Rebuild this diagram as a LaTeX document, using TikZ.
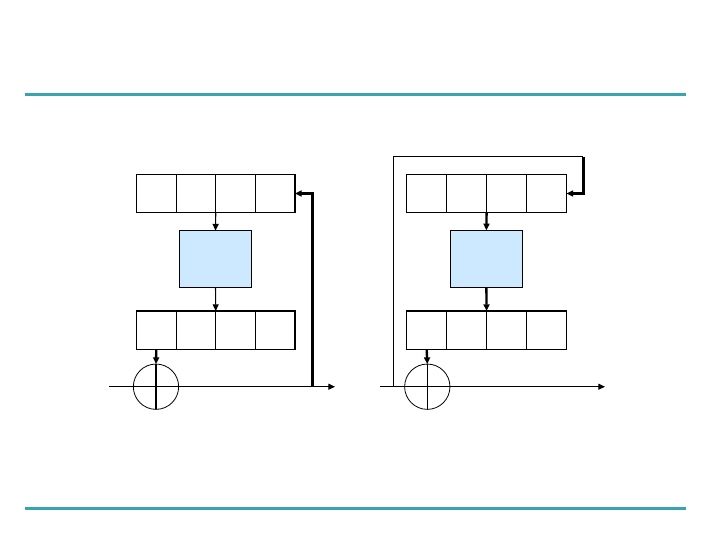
\documentclass[tikz,border=0pt]{standalone}
\usetikzlibrary{arrows.meta}
\definecolor{teal1}{HTML}{36A5AF}
\definecolor{lblue}{HTML}{CCE9FF}
\begin{document}
\begin{tikzpicture}[x=0.75pt,y=-0.75pt,
  cell/.style={draw,line width=0.8pt,minimum width=29.8pt,minimum height=29pt,inner sep=0pt,outer sep=0pt},
  fbox/.style={draw,line width=0.8pt,fill=lblue,minimum width=54.4pt,minimum height=42.6pt,inner sep=0pt,outer sep=0pt},
  xorc/.style={draw,circle,line width=0.6pt,minimum size=34pt,inner sep=0pt,outer sep=0pt},
  thin/.style={line width=0.8pt},
  thick2/.style={line width=1.8pt},
  tip/.style={-{Triangle[length=5pt,width=4.5pt]}},
  rule/.style={teal1,line width=2.4pt}]
\useasboundingbox (0,0) rectangle (720,540);
\draw[rule] (25,94.5) -- (686,94.5);
\draw[rule] (25,508.5) -- (686,508.5);

% ---------- left diagram ----------
\foreach \i/\x in {1/156.3,2/195.9,3/235.5,4/275.1}{
  \node[cell] (lt\i) at (\x,193.5) {};
  \node[cell] (lb\i) at (\x,330.3) {};
}
\node[fbox] (lbox) at (215.5,259) {};
\node[xorc] (lx) at (156,386.7) {};
\draw[thin] (lx.north) -- (lx.south);
\coordinate (lin) at (109,386.7);
\coordinate (lout) at (335,386.7);
\coordinate (lfb) at (312.3,386.7);
\coordinate (lfbt) at (312.3,193.5);
\draw[thin,tip] (lin) -- (lout);
\draw[thin,tip] (lt2.south east) -- (lbox.north);
\draw[thin,tip] (lbox.south) -- (lb2.north east);
\draw[thick2,tip] (lb1.south) -- (lx.north);
\draw[thick2,tip] (lfb) -- (lfbt) -- (lt4.east);

% ---------- right diagram ----------
\foreach \i/\x in {1/426.7,2/466.7,3/506.5,4/546.6}{
  \node[cell] (rt\i) at (\x,193.5) {};
  \node[cell] (rb\i) at (\x,330.3) {};
}
\node[fbox] (rbox) at (486.4,258.7) {};
\node[xorc] (rx) at (427.3,386.7) {};
\draw[thin] (rx.north) -- (rx.south);
\coordinate (rin) at (380,386.7);
\coordinate (rout) at (605,386.7);
\coordinate (rfb) at (393.3,386.7);
\coordinate (rfb1) at (393.3,156.7);
\coordinate (rfb2) at (583.3,156.7);
\coordinate (rfb3) at (583.3,193.5);
\draw[thin,tip] (rin) -- (rout);
\draw[thick2,tip] (rt2.south east) -- (rbox.north);
\draw[thick2,tip] (rbox.south) -- (rb2.north east);
\draw[thick2,tip] (rb1.south) -- (rx.north);
\draw[thin] (rfb) -- (rfb1) -- (rfb2);
\draw[thick2,tip] (rfb2) -- (rfb3) -- (rt4.east);
\end{tikzpicture}
\end{document}
